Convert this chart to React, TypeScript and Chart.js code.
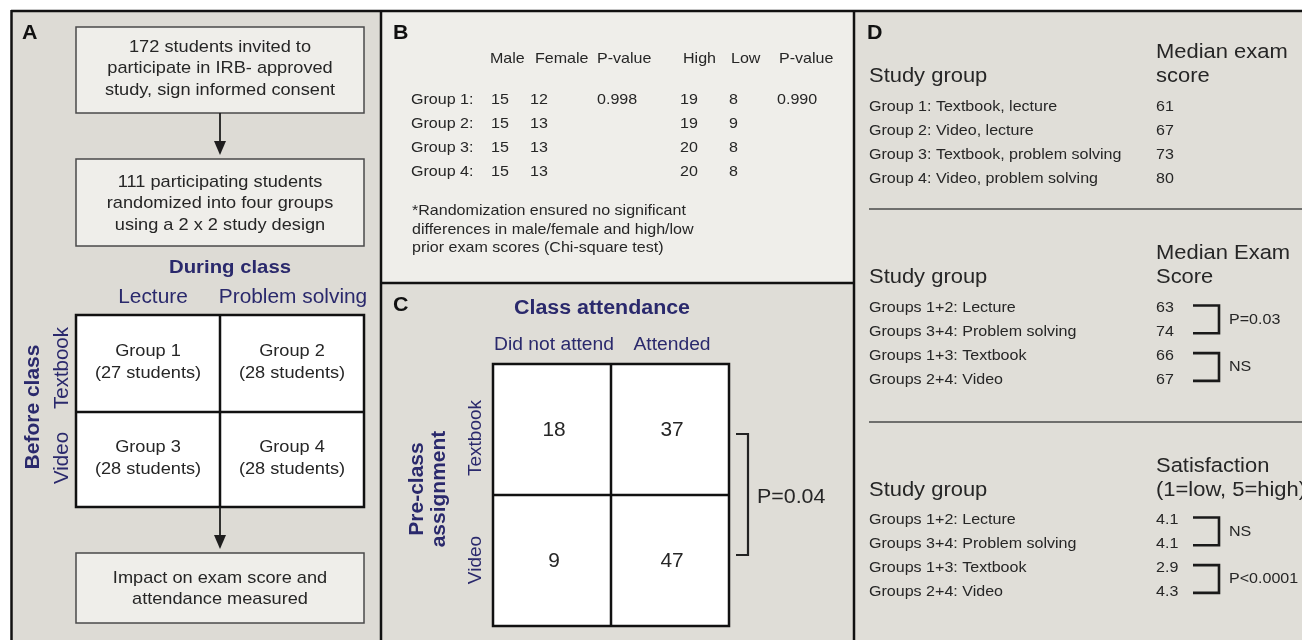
import { useEffect, useRef } from "react";
import { Chart, registerables } from "chart.js";

Chart.register(...registerables);

// ---------- Data ----------
// Panel A
const flowBoxTop = ["172 students invited to", "participate in IRB- approved", "study, sign informed consent"];
const flowBoxMiddle = ["111 participating students", "randomized into four groups", "using a 2 x 2 study design"];
const flowBoxBottom = ["Impact on exam score and", "attendance measured"];
const duringClassTitle = "During class";
const duringClassLevels = ["Lecture", "Problem solving"];
const beforeClassTitle = "Before class";
const beforeClassLevels = ["Textbook", "Video"];
const designGroups = ["Group 1", "Group 2", "Group 3", "Group 4"];
const designGroupSizes = [27, 28, 28, 28];

// Panel B
const demoHeaders = ["Male", "Female", "P-value", "High", "Low", "P-value"];
const demoGroups = ["Group 1:", "Group 2:", "Group 3:", "Group 4:"];
const maleCounts = [15, 15, 15, 15];
const femaleCounts = [12, 13, 13, 13];
const sexPValues = ["0.998", "", "", ""];
const highCounts = [19, 19, 20, 20];
const lowCounts = [8, 9, 8, 8];
const priorPValues = ["0.990", "", "", ""];
const demoFootnote = [
  "*Randomization ensured no significant",
  "differences in male/female and high/low",
  "prior exam scores (Chi-square test)",
];

// Panel C
const attendanceTitle = "Class attendance";
const attendanceColumns = ["Did not attend", "Attended"];
const assignmentRows = ["Textbook", "Video"];
const assignmentTitle = ["Pre-class", "assignment"];
const textbookAttendance = [18, 37];
const videoAttendance = [9, 47];
const attendancePValue = "P=0.04";

// Panel D
const studyGroupTitle = "Study group";
const groupExamHeader = ["Median exam", "score"];
const groupLabels = [
  "Group 1: Textbook, lecture",
  "Group 2: Video, lecture",
  "Group 3: Textbook, problem solving",
  "Group 4: Video, problem solving",
];
const groupMedianExam = [61, 67, 73, 80];
const factorExamHeader = ["Median Exam", "Score"];
const factorLabels = [
  "Groups 1+2: Lecture",
  "Groups 3+4: Problem solving",
  "Groups 1+3: Textbook",
  "Groups 2+4: Video",
];
const factorMedianExam = [63, 74, 66, 67];
const examPValues = ["P=0.03", "NS"];
const satisfactionHeader = ["Satisfaction", "(1=low, 5=high)"];
const factorSatisfaction = [4.1, 4.1, 2.9, 4.3];
const satisfactionPValues = ["NS", "P<0.0001"];

// ---------- Styling ----------
const W = 1302;
const H = 640;
const FONT = '"Liberation Sans", Arial, Helvetica, sans-serif';
const INK = "#262626";
const NAVY = "#2a296c";
const SX = 1.07;

type TOpts = { bold?: boolean; color?: string; align?: CanvasTextAlign; rot?: boolean; sx?: number };

export default function App() {
  const ref = useRef<HTMLCanvasElement>(null);

  useEffect(() => {
    const canvas = ref.current;
    if (!canvas) return;

    const figurePlugin = {
      id: "figurePanels",
      afterDraw(chart: any) {
        const ctx: CanvasRenderingContext2D = chart.ctx;
        const xs = chart.scales.x;
        const ys = chart.scales.y;
        const px = (v: number) => xs.getPixelForValue(v);
        const py = (v: number) => ys.getPixelForValue(v);

        const txt = (s: string, x: number, y: number, size: number, o: TOpts = {}) => {
          ctx.save();
          ctx.translate(px(x), py(y));
          if (o.rot) ctx.rotate(-Math.PI / 2);
          else ctx.scale(o.sx ?? SX, 1);
          ctx.font = `${o.bold ? "bold " : ""}${size}px ${FONT}`;
          ctx.fillStyle = o.color ?? INK;
          ctx.textAlign = o.align ?? "left";
          ctx.textBaseline = "middle";
          ctx.fillText(s, 0, 0);
          ctx.restore();
        };
        const rect = (x0: number, y0: number, x1: number, y1: number, fill?: string, stroke?: string, lw = 1) => {
          const a = px(x0), b = py(y0), c = px(x1), d = py(y1);
          if (fill) {
            ctx.fillStyle = fill;
            ctx.fillRect(a, b, c - a, d - b);
          }
          if (stroke) {
            ctx.strokeStyle = stroke;
            ctx.lineWidth = lw;
            ctx.strokeRect(a, b, c - a, d - b);
          }
        };
        const line = (pts: number[][], color: string, lw: number) => {
          ctx.save();
          ctx.strokeStyle = color;
          ctx.lineWidth = lw;
          ctx.lineJoin = "miter";
          ctx.beginPath();
          pts.forEach((p, i) => (i === 0 ? ctx.moveTo(px(p[0]), py(p[1])) : ctx.lineTo(px(p[0]), py(p[1]))));
          ctx.stroke();
          ctx.restore();
        };
        const arrow = (x: number, y0: number, y1: number) => {
          line([[x, y0], [x, y1 - 10]], "#1e1e1e", 1.8);
          ctx.fillStyle = "#1e1e1e";
          ctx.beginPath();
          ctx.moveTo(px(x - 6), py(y1 - 14));
          ctx.lineTo(px(x + 6), py(y1 - 14));
          ctx.lineTo(px(x), py(y1));
          ctx.closePath();
          ctx.fill();
        };

        // ----- Backgrounds -----
        rect(0, 0, W, H, "#ffffff");
        rect(11, 10, 381, H, "#dddbd5");
        rect(381, 10, 854, 283, "#efeeea");
        rect(381, 283, 854, H, "#dfddd7");
        rect(854, 10, W, H, "#e0ded8");
        line([[11, 11], [W, 11]], "#111", 2.5);
        line([[11.5, 10], [11.5, H]], "#111", 2.5);
        line([[381, 10], [381, H]], "#111", 2.5);
        line([[854, 10], [854, H]], "#111", 2.5);
        line([[381, 283], [854, 283]], "#111", 2.5);

        // ----- Panel labels -----
        txt("A", 22, 33, 20, { bold: true, color: "#111" });
        txt("B", 393, 33, 20, { bold: true, color: "#111" });
        txt("C", 393, 305, 20, { bold: true, color: "#111" });
        txt("D", 867, 33, 20, { bold: true, color: "#111" });

        // ----- Panel A -----
        const boxX0 = 76, boxX1 = 364, boxCx = 220;
        rect(boxX0, 27, boxX1, 113, "#efeeea", "#4a4a4a", 1.5);
        flowBoxTop.forEach((s, i) => txt(s, boxCx, 47 + i * 21.5, 17, { align: "center" }));
        arrow(boxCx, 113, 155);
        rect(boxX0, 159, boxX1, 246, "#efeeea", "#4a4a4a", 1.5);
        flowBoxMiddle.forEach((s, i) => txt(s, boxCx, 182 + i * 21.5, 17, { align: "center" }));

        txt(duringClassTitle, 230, 268, 19, { bold: true, color: NAVY, align: "center" });
        const aGridX = [76, 220, 364];
        const aGridY = [315, 412, 507];
        const aHeadX = [153, 293];
        duringClassLevels.forEach((s, i) => txt(s, aHeadX[i], 298, 19.5, { color: NAVY, align: "center" }));
        rect(aGridX[0], aGridY[0], aGridX[2], aGridY[2], "#ffffff");
        designGroups.forEach((g, k) => {
          const r = Math.floor(k / 2), c = k % 2;
          const cx = (aGridX[c] + aGridX[c + 1]) / 2;
          const cy = (aGridY[r] + aGridY[r + 1]) / 2;
          txt(g, cx, cy - 12.5, 17, { align: "center" });
          txt(`(${designGroupSizes[k]} students)`, cx, cy + 9.5, 17, { align: "center" });
        });
        rect(aGridX[0], aGridY[0], aGridX[2], aGridY[2], undefined, "#111", 2.5);
        line([[aGridX[1], aGridY[0]], [aGridX[1], aGridY[2]]], "#111", 2.5);
        line([[aGridX[0], aGridY[1]], [aGridX[2], aGridY[1]]], "#111", 2.5);
        const aRowY = [368, 458];
        beforeClassLevels.forEach((s, i) => txt(s, 62, aRowY[i], 20.5, { color: NAVY, align: "center", rot: true }));
        txt(beforeClassTitle, 33, 407, 21, { bold: true, color: NAVY, align: "center", rot: true });

        arrow(boxCx, aGridY[2], 549);
        rect(boxX0, 553, boxX1, 623, "#efeeea", "#4a4a4a", 1.5);
        flowBoxBottom.forEach((s, i) => txt(s, boxCx, 578 + i * 21.5, 17, { align: "center" }));

        // ----- Panel B -----
        const headX = [490, 535, 597, 683, 731, 779];
        demoHeaders.forEach((s, i) => txt(s, headX[i], 59, 15, {}));
        const colX = [491, 530, 597, 680, 729, 777];
        const rowY = [100, 124, 148, 172];
        demoGroups.forEach((g, r) => {
          txt(g, 411, rowY[r], 15);
          const vals = [
            String(maleCounts[r]),
            String(femaleCounts[r]),
            sexPValues[r],
            String(highCounts[r]),
            String(lowCounts[r]),
            priorPValues[r],
          ];
          vals.forEach((v, c) => v && txt(v, colX[c], rowY[r], 15));
        });
        demoFootnote.forEach((s, i) => txt(s, 412, 211 + i * 18.5, 15));

        // ----- Panel C -----
        txt(attendanceTitle, 602, 308, 20, { bold: true, color: NAVY, align: "center" });
        const cGridX = [493, 611, 729];
        const cGridY = [364, 495, 626];
        const cHeadX = [554, 672];
        attendanceColumns.forEach((s, i) => txt(s, cHeadX[i], 345, 18, { color: NAVY, align: "center" }));
        rect(cGridX[0], cGridY[0], cGridX[2], cGridY[2], "#ffffff");
        [textbookAttendance, videoAttendance].forEach((row, r) => {
          row.forEach((v, c) => {
            const cx = (cGridX[c] + cGridX[c + 1]) / 2 + 2;
            const cy = (cGridY[r] + cGridY[r + 1]) / 2 + 1;
            txt(String(v), cx, cy, 19.5, { align: "center" });
          });
        });
        rect(cGridX[0], cGridY[0], cGridX[2], cGridY[2], undefined, "#111", 2.5);
        line([[cGridX[1], cGridY[0]], [cGridX[1], cGridY[2]]], "#111", 2.5);
        line([[cGridX[0], cGridY[1]], [cGridX[2], cGridY[1]]], "#111", 2.5);
        const cRowY = [438, 560];
        assignmentRows.forEach((s, i) => txt(s, 476, cRowY[i], 19, { color: NAVY, align: "center", rot: true }));
        txt(assignmentTitle[0], 417, 489, 21, { bold: true, color: NAVY, align: "center", rot: true });
        txt(assignmentTitle[1], 439, 489, 21, { bold: true, color: NAVY, align: "center", rot: true });
        line([[736, 434], [748, 434], [748, 555], [736, 555]], "#222", 2.2);
        txt(attendancePValue, 757, 497, 20);

        // ----- Panel D -----
        const dLeft = 869, dVal = 1156;
        const section = (
          header: string[],
          headerY: number,
          labels: string[],
          values: string[],
          firstRowY: number,
          pLabels?: string[]
        ) => {
          txt(header[0], dVal, headerY - 24, 20.5);
          txt(header[1], dVal, headerY, 20.5);
          txt(studyGroupTitle, dLeft, headerY, 20.5);
          const ry = labels.map((_, i) => firstRowY + i * 23.8);
          labels.forEach((s, i) => {
            txt(s, dLeft, ry[i], 15);
            txt(values[i], dVal, ry[i], 15);
          });
          if (pLabels) {
            pLabels.forEach((p, k) => {
              const yA = ry[2 * k] - 2.5;
              const yB = ry[2 * k + 1] + 1.5;
              line([[1193, yA], [1219, yA], [1219, yB], [1193, yB]], "#1a1a1a", 2.6);
              txt(p, 1229, (yA + yB) / 2, 15);
            });
          }
        };
        section(groupExamHeader, 76, groupLabels, groupMedianExam.map(String), 107);
        line([[dLeft, 209], [W, 209]], "#4a4a4a", 1.5);
        section(factorExamHeader, 277, factorLabels, factorMedianExam.map(String), 308, examPValues);
        line([[dLeft, 422], [W, 422]], "#4a4a4a", 1.5);
        section(satisfactionHeader, 490, factorLabels, factorSatisfaction.map((v) => v.toFixed(1)), 520, satisfactionPValues);
      },
    };

    const chart = new Chart(canvas, {
      type: "scatter",
      data: { datasets: [{ data: [], pointRadius: 0 }] },
      options: {
        responsive: false,
        animation: false,
        devicePixelRatio: 1,
        events: [],
        layout: { padding: 0 },
        plugins: { legend: { display: false }, tooltip: { enabled: false }, title: { display: false } },
        scales: {
          x: { type: "linear", min: 0, max: W, display: false },
          y: { type: "linear", min: 0, max: H, reverse: true, display: false },
        },
      },
      plugins: [figurePlugin],
    });
    return () => chart.destroy();
  }, []);

  return (
    <div style={{ position: "fixed", left: 0, top: 0, width: W, height: H, background: "#ffffff", overflow: "hidden" }}>
      <canvas ref={ref} width={W} height={H} style={{ display: "block" }} />
    </div>
  );
}
